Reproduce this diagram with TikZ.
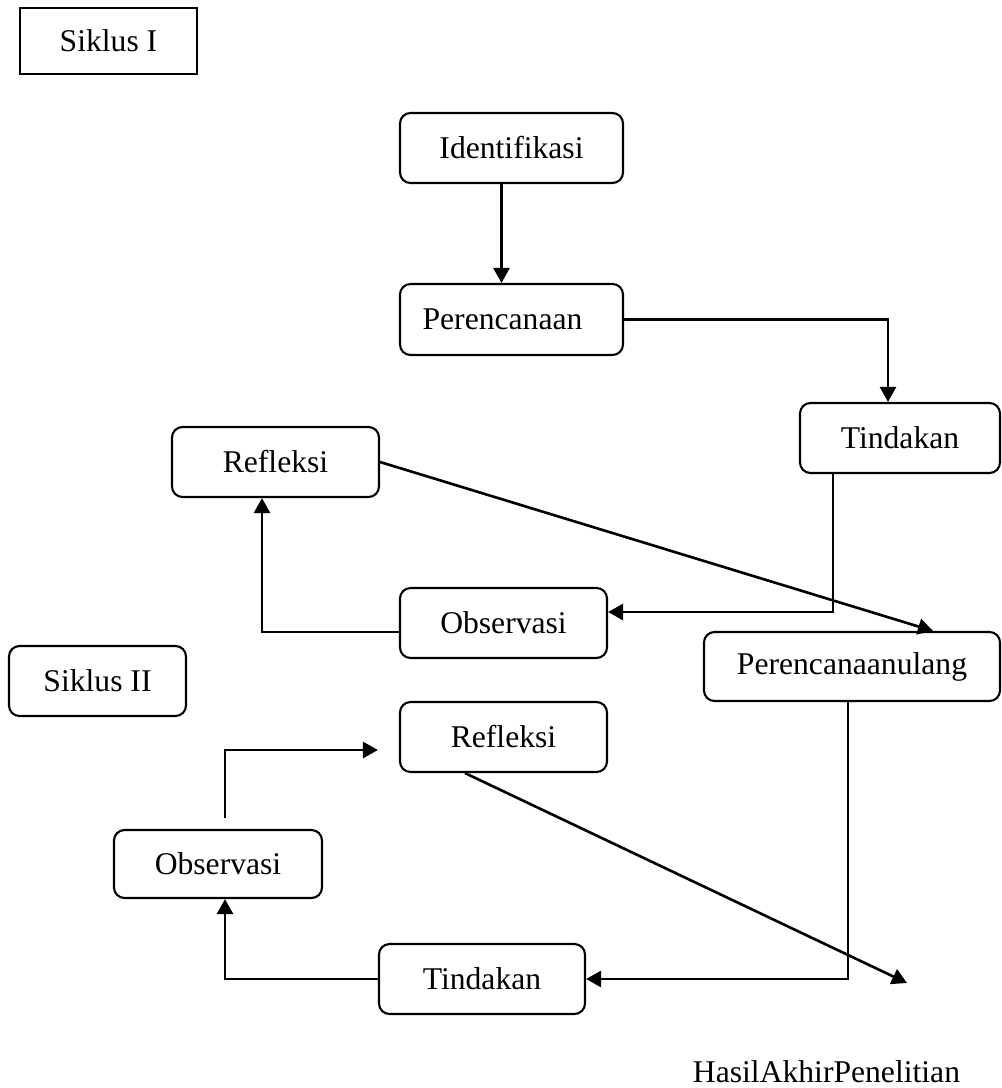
\documentclass[tikz,border=0pt]{standalone}
\usepackage{fontspec}
\setmainfont{Liberation Serif}
\usetikzlibrary{arrows.meta}

\begin{document}
\begin{tikzpicture}[font=\fontsize{9}{11}\selectfont]
           \tikzstyle{box} = [rectangle, rounded corners=3pt, minimum width=2.07cm, minimum height=0.7cm, inner sep=0pt, text centered, draw=black, line width=0.6pt]
            \tikzstyle{label} = [rectangle, minimum width=1.77cm, minimum height=0.66cm, inner sep=0pt, draw=black, line width=0.8pt]
            \tikzstyle{arrow} = [line width=0.75pt,->,>={Triangle[length=1.5mm,width=1.6mm]}]

            \useasboundingbox (0,0) rectangle (10.01,-10.88);

            \node (siklus1) [label] at (1.085,-0.41) {Siklus I};
            \node (ident) [box, minimum width=2.23cm] at (5.115,-1.48) {Identifikasi};
            \node (renc) [box, minimum width=2.23cm, minimum height=0.71cm, below of=ident, node distance=1.715cm] {\hspace*{-0.18cm}Perencanaan};
            \node (tind1) [box, minimum width=2cm, below of=renc, node distance=1.185cm, xshift=3.885cm] {Tindakan};
            \node (obs1) [box, below of=tind1, node distance=1.85cm, xshift=-3.965cm] {Observasi};
            \node (refl1) [box, above of=obs1, node distance=1.61cm, xshift=-2.28cm] {Refleksi};
            \node (ulang) [box, minimum width=2.96cm, minimum height=0.69cm, below of=tind1, node distance=2.285cm, xshift=-0.48cm] {Perencanaanulang};

            \node (refl2) [box, below of=obs1, node distance=1.14cm] {Refleksi};
            \node (siklus2) [box, minimum width=1.77cm, left of=refl2, node distance=4.06cm, yshift=0.56cm] {Siklus II};
            \node (tind2) [box, minimum width=2.06cm, below of=refl2, node distance=2.42cm, xshift=-0.215cm] {Tindakan};
            \node (obs2) [box, minimum width=2.08cm, minimum height=0.68cm, above of=tind2, node distance=1.15cm, xshift=-2.64cm] {Observasi};
            \node (hasil) [anchor=base] at (8.265,-10.82) {HasilAkhirPenelitian};

            \coordinate (obs2out) at ([xshift=0.07cm, yshift=0.11cm]obs2.north);
            \coordinate (refl2in) at ([xshift=-0.21cm, yshift=-0.13cm]refl2.west);
            \coordinate (hasilin) at (9.07,-9.83);

            \draw[arrow] ([xshift=-0.1cm]ident.south) -- ([xshift=-0.1cm]renc.north);
            \draw[arrow] (renc.east) -| ([xshift=-0.12cm]tind1.north);
            \draw[arrow] ([xshift=-0.67cm]tind1.south) |- ([yshift=0.11cm]obs1.east);
            \draw[arrow] ([yshift=-0.09cm]obs1.west) -| ([xshift=-0.135cm]refl1.south);
            \draw[arrow] (refl1.east) -- ([xshift=0.81cm]ulang.north);
            \draw[arrow] ([xshift=-0.04cm]ulang.south) |- (tind2.east);
            \draw[arrow] (tind2.west) -| ([xshift=0.07cm]obs2.south);
            \draw[arrow] (obs2out) |- (refl2in);
            \draw[arrow] ([xshift=-0.385cm]refl2.south) -- (hasilin);
       \end{tikzpicture}
\end{document}
